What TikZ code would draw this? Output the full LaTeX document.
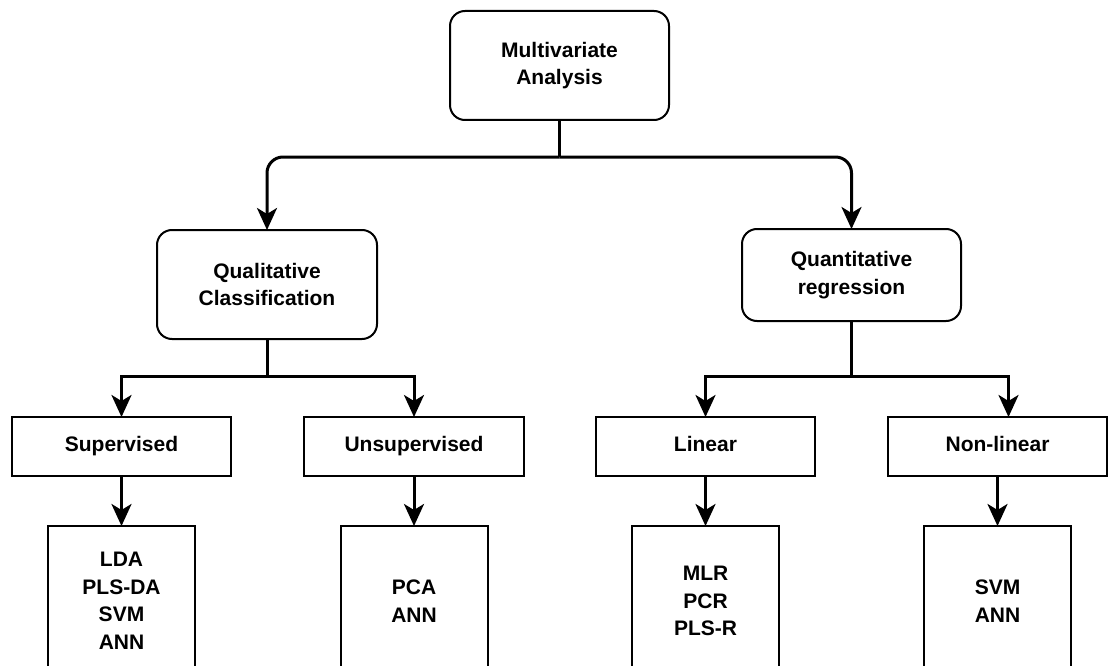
\documentclass[tikz,border=0pt]{standalone}
\usepackage{fontspec}
\setmainfont{Liberation Sans}
\usetikzlibrary{arrows.meta}
\begin{document}
\begin{tikzpicture}[x=1pt,y=-1pt,
  every node/.style={font=\bfseries\fontsize{21}{27.5}\selectfont, align=center, inner sep=0pt, outer sep=0pt},
  rbox/.style={draw=black, line width=2pt, fill=white, rounded corners=15pt},
  sbox/.style={draw=black, line width=2pt, fill=white, minimum width=219pt, minimum height=59pt, text height=15pt, text depth=4.5pt},
  lbox/.style={draw=black, line width=2pt, fill=white, minimum width=147pt, minimum height=150pt},
  conn/.style={draw=black, line width=3pt, -{Stealth[length=22pt, width=20pt, inset=6pt]}},
  plain/.style={draw=black, line width=3pt}
]
\useasboundingbox (0,0) rectangle (1108,666);
\clip (0,0) rectangle (1108,666);

\node[rbox, minimum width=219pt, minimum height=109pt] (top) at (559.5,65.5) {Multivariate\\Analysis};
\node[rbox, minimum width=220pt, minimum height=109pt] (qual) at (267,284.5) {Qualitative\\Classification};
\node[rbox, minimum width=219pt, minimum height=92pt] (quant) at (851.5,275) {Quantitative\\regression};

\node[sbox] (sup) at (121.5,446.5) {Supervised};
\node[sbox, minimum width=220pt] (unsup) at (414,446.5) {Unsupervised};
\node[sbox] (lin) at (705.5,446.5) {Linear};
\node[sbox] (nonlin) at (997.5,446.5) {Non-linear};

\node[lbox] (lda) at (121.5,601) {LDA\\PLS-DA\\SVM\\ANN};
\node[lbox] (pca) at (414,601) {PCA\\ANN};
\node[lbox] (mlr) at (705.5,601) {MLR\\PCR\\PLS-R};
\node[lbox] (svm) at (997.5,601) {SVM\\ANN};

\coordinate (j0) at ([yshift=-37pt]top.south);
\coordinate (j1) at ([yshift=-37pt]qual.south);
\coordinate (j2) at ([yshift=-55pt]quant.south);

\draw[plain] (top.south) -- (j0);
\draw[conn, rounded corners=16pt] (j0) -| (qual.north);
\draw[conn, rounded corners=16pt] (j0) -| (quant.north);

\draw[plain] (qual.south) -- (j1);
\draw[conn] (j1) -| (sup.north);
\draw[conn] (j1) -| (unsup.north);
\draw[plain] (quant.south) -- (j2);
\draw[conn] (j2) -| (lin.north);
\draw[conn] (j2) -| ([xshift=11pt]nonlin.north);

\draw[conn] (sup.south) -- (lda.north);
\draw[conn] (unsup.south) -- (pca.north);
\draw[conn] (lin.south) -- (mlr.north);
\draw[conn] (nonlin.south) -- (svm.north);
\end{tikzpicture}
\end{document}
